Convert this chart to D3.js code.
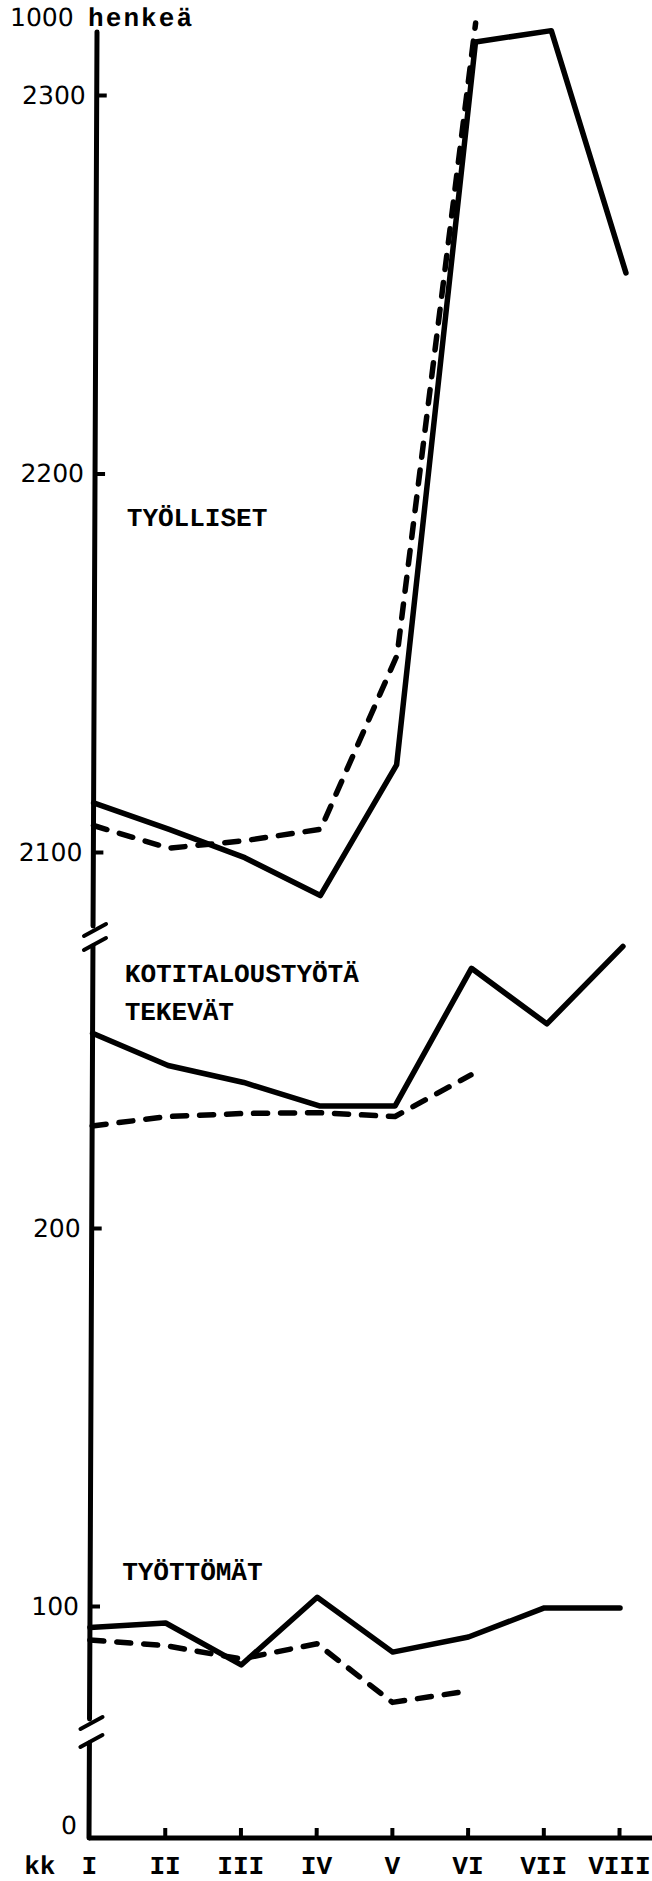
<!DOCTYPE html>
<html>
<head>
<meta charset="utf-8">
<script src="https://cdn.jsdelivr.net/npm/d3@7"></script>
<style>
  body { margin: 0; background: #fff; }
  svg { display: block; }
  .type { font-family: "Liberation Mono", "DejaVu Sans Mono", monospace; font-weight: bold; font-size: 26px; }
  .num { font-family: "DejaVu Sans", sans-serif; font-size: 25px; }
</style>
</head>
<body>
<svg></svg>
<script>
// -----------------------------
// DATA (1000 henkeä, kuukausittain)
// -----------------------------
const months = ["I", "II", "III", "IV", "V", "VI", "VII", "VIII"];

// työlliset: kuluva vuosi (yhtenäinen) ja edellinen vuosi (katkoviiva)
const employed     = [2113, 2106, 2098.5, 2088.5, 2123, 2314, 2317, 2253];
const employedPrev = [2107, 2101, 2103, 2106, 2152, 2319];

// kotitaloustyötä tekevät
const household     = [251.5, 243, 238.5, 232.3, 232.3, 268.7, 254, 274.5];
const householdPrev = [227, 229.5, 230.3, 230.5, 229.5, 240.5];

// työttömät
const unemployed     = [94.3, 95.5, 84.4, 102.3, 87.8, 91.8, 99.5, 99.5];
const unemployedPrev = [91, 89.5, 86, 90, 74.5, 77.5];

const ticksTop = [2100, 2200, 2300];
const ticksMid = [100, 200];

const labels = [
  { text: "TYÖLLISET", seg: "top", v: 2186 },
  { text: "KOTITALOUSTYÖTÄ", seg: "mid", v: 265 },
  { text: "TEKEVÄT", seg: "mid", v: 255 },
  { text: "TYÖTTÖMÄT", seg: "mid", v: 107 }
];

// -----------------------------
// SETUP
// -----------------------------
let width = 652,
    height = 1881;

let svg = d3.select("svg")
            .attr("width", width)
            .attr("height", height);

let x0 = 89,
    xAxisY = 1838;

// the scan is a little tilted: top of the axis leans right
let chart = svg.append("g")
               .attr("transform", `translate(0,${xAxisY}) skewX(-0.254) translate(0,${-xAxisY})`);

// -----------------------------
// SCALES (broken y axis)
// -----------------------------
let xScale = d3.scalePoint()
               .domain(months)
               .range([x0, 619]);

let yTop = d3.scaleLinear()
             .domain([2100, 2300])
             .range([852, 95]);

let yMid = d3.scaleLinear()
             .domain([100, 200])
             .range([1606, 1228]);

// -----------------------------
// AXES
// -----------------------------
let axisColor = "#000";

// vertical axis pieces with breaks
let axisPieces = [[32, 926], [946, 1719], [1743, xAxisY]];
chart.selectAll("line.yaxis")
     .data(axisPieces)
     .enter()
     .append("line")
     .attr("class", "yaxis")
     .attr("x1", x0).attr("x2", x0)
     .attr("y1", d => d[0]).attr("y2", d => d[1])
     .attr("stroke", axisColor)
     .attr("stroke-width", 5)
     .attr("stroke-linecap", "round");

// break marks
let breaks = [[926, 946], [1719, 1743]];
breaks.forEach(b => {
  chart.append("path")
       .attr("d", `M${x0 - 9},${b[0] + 10} L${x0 + 13},${b[0] - 2}`)
       .attr("stroke", axisColor).attr("stroke-width", 4).attr("fill", "none")
       .attr("stroke-linecap", "round");
  chart.append("path")
       .attr("d", `M${x0 - 9},${b[1] + 4} L${x0 + 13},${b[1] - 8}`)
       .attr("stroke", axisColor).attr("stroke-width", 4).attr("fill", "none")
       .attr("stroke-linecap", "round");
});

function styleAxis(g) {
  g.select(".domain").remove();
  g.selectAll(".tick line").attr("stroke", axisColor).attr("stroke-width", 4);
  g.selectAll(".tick text").attr("fill", "#000");
}

chart.append("g")
     .attr("transform", `translate(${x0},0)`)
     .call(d3.axisLeft(yTop).tickValues(ticksTop).tickFormat(d3.format("d"))
             .tickSizeInner(-10).tickSizeOuter(0).tickPadding(11))
     .attr("font-size", null).attr("font-family", null)
     .attr("class", "num")
     .call(styleAxis);

chart.append("g")
     .attr("transform", `translate(${x0},0)`)
     .call(d3.axisLeft(yMid).tickValues(ticksMid).tickFormat(d3.format("d"))
             .tickSizeInner(-10).tickSizeOuter(0).tickPadding(11))
     .attr("font-size", null).attr("font-family", null)
     .attr("class", "num")
     .call(styleAxis);

// zero label
chart.append("text")
     .attr("class", "num")
     .attr("x", x0 - 12)
     .attr("y", xAxisY - 4)
     .attr("text-anchor", "end")
     .text("0");

// horizontal axis
chart.append("line")
     .attr("x1", x0).attr("x2", width)
     .attr("y1", xAxisY).attr("y2", xAxisY)
     .attr("stroke", axisColor)
     .attr("stroke-width", 5);

chart.append("g")
     .attr("transform", `translate(0,${xAxisY})`)
     .call(d3.axisBottom(xScale).tickSizeInner(-10).tickSizeOuter(0).tickPadding(18))
     .attr("font-size", null).attr("font-family", null)
     .attr("class", "type")
     .call(styleAxis)
     .call(g => g.selectAll(".tick").filter(d => d === "I").select("line").remove());

chart.append("text")
     .attr("class", "type")
     .attr("x", 40)
     .attr("y", xAxisY + 18)
     .attr("dy", "0.71em")
     .attr("text-anchor", "middle")
     .text("kk");

// unit title
chart.append("text")
     .attr("class", "num")
     .attr("x", 2).attr("y", 26)
     .text("1000");
chart.append("text")
     .attr("class", "type")
     .attr("x", 80).attr("y", 26)
     .attr("textLength", 104)
     .attr("lengthAdjust", "spacing")
     .text("henkeä");

// -----------------------------
// LINES
// -----------------------------
let series = [
  { values: employed, y: yTop, dash: null },
  { values: employedPrev, y: yTop, dash: "14 13" },
  { values: household, y: yMid, dash: null },
  { values: householdPrev, y: yMid, dash: "14 13" },
  { values: unemployed, y: yMid, dash: null },
  { values: unemployedPrev, y: yMid, dash: "14 13" }
];

series.forEach(s => {
  let line = d3.line()
               .x((d, i) => xScale(months[i]))
               .y(d => s.y(d));
  chart.append("path")
       .datum(s.values)
       .attr("d", line)
       .attr("fill", "none")
       .attr("stroke", "#000")
       .attr("stroke-width", 5.5)
       .attr("stroke-linejoin", "round")
       .attr("stroke-linecap", "round")
       .attr("stroke-dasharray", s.dash);
});

// -----------------------------
// SERIES LABELS
// -----------------------------
chart.selectAll("text.lbl")
     .data(labels)
     .enter()
     .append("text")
     .attr("class", "lbl type")
     .attr("x", 121)
     .attr("y", d => (d.seg === "top" ? yTop(d.v) : yMid(d.v)))
     .text(d => d.text);
</script>
</body>
</html>
